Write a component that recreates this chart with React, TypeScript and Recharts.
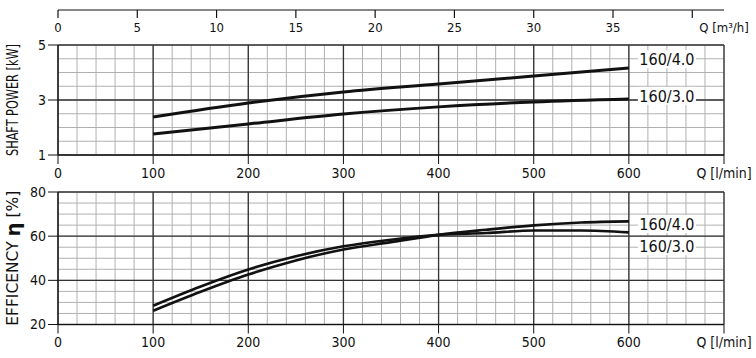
import { LineChart, Line, XAxis, YAxis, CartesianGrid, ReferenceDot } from 'recharts';

const FONT = "'Liberation Sans Narrow', 'DejaVu Sans Condensed', 'Liberation Sans', sans-serif";

// flow points in l/min
const flowPower = [100, 200, 300, 400, 500, 600];
const power40 = [2.38, 2.89, 3.29, 3.58, 3.87, 4.16];
const power30 = [1.76, 2.13, 2.49, 2.75, 2.93, 3.04];

const flowEff = [100, 150, 200, 250, 300, 350, 400, 450, 500, 550, 600];
const eff40 = [26.2, 34.8, 42.6, 49.0, 54.0, 57.3, 60.6, 62.9, 64.9, 66.2, 66.7];
const eff30 = [28.5, 37.2, 44.9, 50.9, 55.4, 58.4, 60.6, 61.4, 62.6, 62.6, 61.7];

const models = ['160/4.0', '160/3.0'];

const lminTicks = [0, 100, 200, 300, 400, 500, 600, 700];
const m3hTicks = [0, 5, 10, 15, 20, 25, 30, 35, 40, 42];
const powerTicks = [1, 3, 5];
const effTicks = [20, 40, 60, 80];
const lminMinor = Array.from({ length: 36 }, (_, i) => i * 20);
const powerMinor = Array.from({ length: 9 }, (_, i) => 1 + i * 0.5);
const effMinor = Array.from({ length: 13 }, (_, i) => 20 + i * 5);

const powerRows = flowPower.map((q, i) => ({ q, p40: power40[i], p30: power30[i] }));
const effRows = flowEff.map((q, i) => ({ q, e40: eff40[i], e30: eff30[i] }));
const m3hRows = m3hTicks.map((v) => ({ m3h: v }));

const W = 756;
const MINOR = '#b0b0b0';
const MAJOR = '#333';
const INK = '#111';

const lminTick = (p: any) => (
  <text x={p.x} y={p.y} dy="0.71em" textAnchor="middle" fontFamily={FONT} fontSize={14} fill={INK}>
    {p.payload.value === 700 ? 'Q [l/min]' : p.payload.value}
  </text>
);

const m3hTick = (p: any) => {
  const v = p.payload.value;
  const last = v === 42;
  return (
    <g>
      {!last && <line x1={p.x} x2={p.x} y1={p.y - 13} y2={p.y - 5} stroke={INK} strokeWidth={1.2} />}
      <text x={p.x} y={p.y} dy="0.71em" textAnchor="middle" fontFamily={FONT} fontSize={13} fill={INK}>
        {last ? 'Q [m³/h]' : v === 40 ? '' : v}
      </text>
    </g>
  );
};

const yTick = (p: any) => (
  <text x={p.x} y={p.y} dy="0.35em" textAnchor="end" fontFamily={FONT} fontSize={14} fill={INK}>
    {p.payload.value}
  </text>
);

const tag = (name: string) => (p: any) => (
  <g>
    <rect x={p.cx - 29} y={p.cy - 9} width={58} height={18} fill="#fff" />
    <text x={p.cx} y={p.cy} dy="0.36em" textAnchor="middle" fontFamily={FONT} fontSize={16} fill={INK}>
      {name}
    </text>
  </g>
);

const powerTitle = (props: any) => {
  const vb = props.viewBox;
  const cy = vb.y + vb.height / 2;
  return (
    <text
      transform={`translate(13, ${cy}) rotate(-90)`}
      textAnchor="middle"
      dominantBaseline="central"
      fontFamily={FONT}
      fontSize={15}
      fill={INK}
      textLength={112}
      lengthAdjust="spacingAndGlyphs"
    >
      SHAFT POWER  [kW]
    </text>
  );
};

const effTitle = (props: any) => {
  const vb = props.viewBox;
  const cy = vb.y + vb.height / 2;
  return (
    <text
      transform={`translate(13, ${cy}) rotate(-90)`}
      textAnchor="middle"
      dominantBaseline="central"
      fontFamily={FONT}
      fontSize={15}
      fill={INK}
      textLength={135}
      lengthAdjust="spacingAndGlyphs"
    >
      EFFICENCY{'  '}
      <tspan fontSize={19} fontWeight="bold">η</tspan>
      {'  '}[%]
    </text>
  );
};

export default function App() {
  return (
    <div style={{ position: 'absolute', left: 0, top: 0, width: W, height: 358, background: '#fff' }}>
      {/* secondary flow axis in m3/h */}
      <div style={{ position: 'absolute', left: 0, top: 0 }}>
        <LineChart width={W} height={50} data={m3hRows} margin={{ top: 5, right: 32, left: 58, bottom: 0 }}>
          <XAxis
            dataKey="m3h"
            type="number"
            domain={[0, 42]}
            ticks={m3hTicks}
            interval={0}
            height={40}
            tickSize={8}
            tickMargin={5}
            tickLine={false}
            axisLine={{ stroke: INK, strokeWidth: 1.2 }}
            tick={m3hTick}
          />
          <YAxis hide domain={[0, 1]} />
        </LineChart>
      </div>

      {/* shaft power */}
      <div style={{ position: 'absolute', left: 0, top: 30 }}>
        <LineChart width={W} height={160} data={powerRows} margin={{ top: 15, right: 32, left: 0, bottom: 0 }}>
          <CartesianGrid
            xAxisId="x"
            yAxisId="y"
            stroke={MINOR}
            strokeWidth={1}
            verticalValues={lminMinor}
            horizontalValues={powerMinor}
          />
          <XAxis
            xAxisId="x"
            dataKey="q"
            type="number"
            domain={[0, 700]}
            ticks={lminTicks}
            interval={0}
            height={35}
            tickSize={9}
            tickMargin={4}
            stroke={INK}
            tick={lminTick}
          />
          <YAxis
            yAxisId="y"
            type="number"
            domain={[1, 5]}
            ticks={powerTicks}
            interval={0}
            width={58}
            tickSize={10}
            tickMargin={2}
            stroke={INK}
            tick={yTick}
            label={powerTitle}
          />
          <CartesianGrid xAxisId="x" yAxisId="y" stroke={MAJOR} strokeWidth={1.3} />
          <Line xAxisId="x" yAxisId="y" dataKey="p40" type="monotone" stroke={INK} strokeWidth={3} dot={false} isAnimationActive={false} />
          <Line xAxisId="x" yAxisId="y" dataKey="p30" type="monotone" stroke={INK} strokeWidth={3} dot={false} isAnimationActive={false} />
          <ReferenceDot xAxisId="x" yAxisId="y" x={640} y={4.48} r={0} shape={tag(models[0])} />
          <ReferenceDot xAxisId="x" yAxisId="y" x={640} y={3.15} r={0} shape={tag(models[1])} />
        </LineChart>
      </div>

      {/* efficiency */}
      <div style={{ position: 'absolute', left: 0, top: 180 }}>
        <LineChart width={W} height={178} data={effRows} margin={{ top: 12, right: 32, left: 0, bottom: 0 }}>
          <CartesianGrid
            xAxisId="x"
            yAxisId="y"
            stroke={MINOR}
            strokeWidth={1}
            verticalValues={lminMinor}
            horizontalValues={effMinor}
          />
          <XAxis
            xAxisId="x"
            dataKey="q"
            type="number"
            domain={[0, 700]}
            ticks={lminTicks}
            interval={0}
            height={33.5}
            tickSize={9}
            tickMargin={4}
            stroke={INK}
            tick={lminTick}
          />
          <YAxis
            yAxisId="y"
            type="number"
            domain={[20, 80]}
            ticks={effTicks}
            interval={0}
            width={58}
            tickSize={10}
            tickMargin={2}
            stroke={INK}
            tick={yTick}
            label={effTitle}
          />
          <CartesianGrid xAxisId="x" yAxisId="y" stroke={MAJOR} strokeWidth={1.3} />
          <Line xAxisId="x" yAxisId="y" dataKey="e40" type="monotone" stroke={INK} strokeWidth={2.6} dot={false} isAnimationActive={false} />
          <Line xAxisId="x" yAxisId="y" dataKey="e30" type="monotone" stroke={INK} strokeWidth={2.6} dot={false} isAnimationActive={false} />
          <ReferenceDot xAxisId="x" yAxisId="y" x={640} y={65.5} r={0} shape={tag(models[0])} />
          <ReferenceDot xAxisId="x" yAxisId="y" x={640} y={55.5} r={0} shape={tag(models[1])} />
        </LineChart>
      </div>
    </div>
  );
}
